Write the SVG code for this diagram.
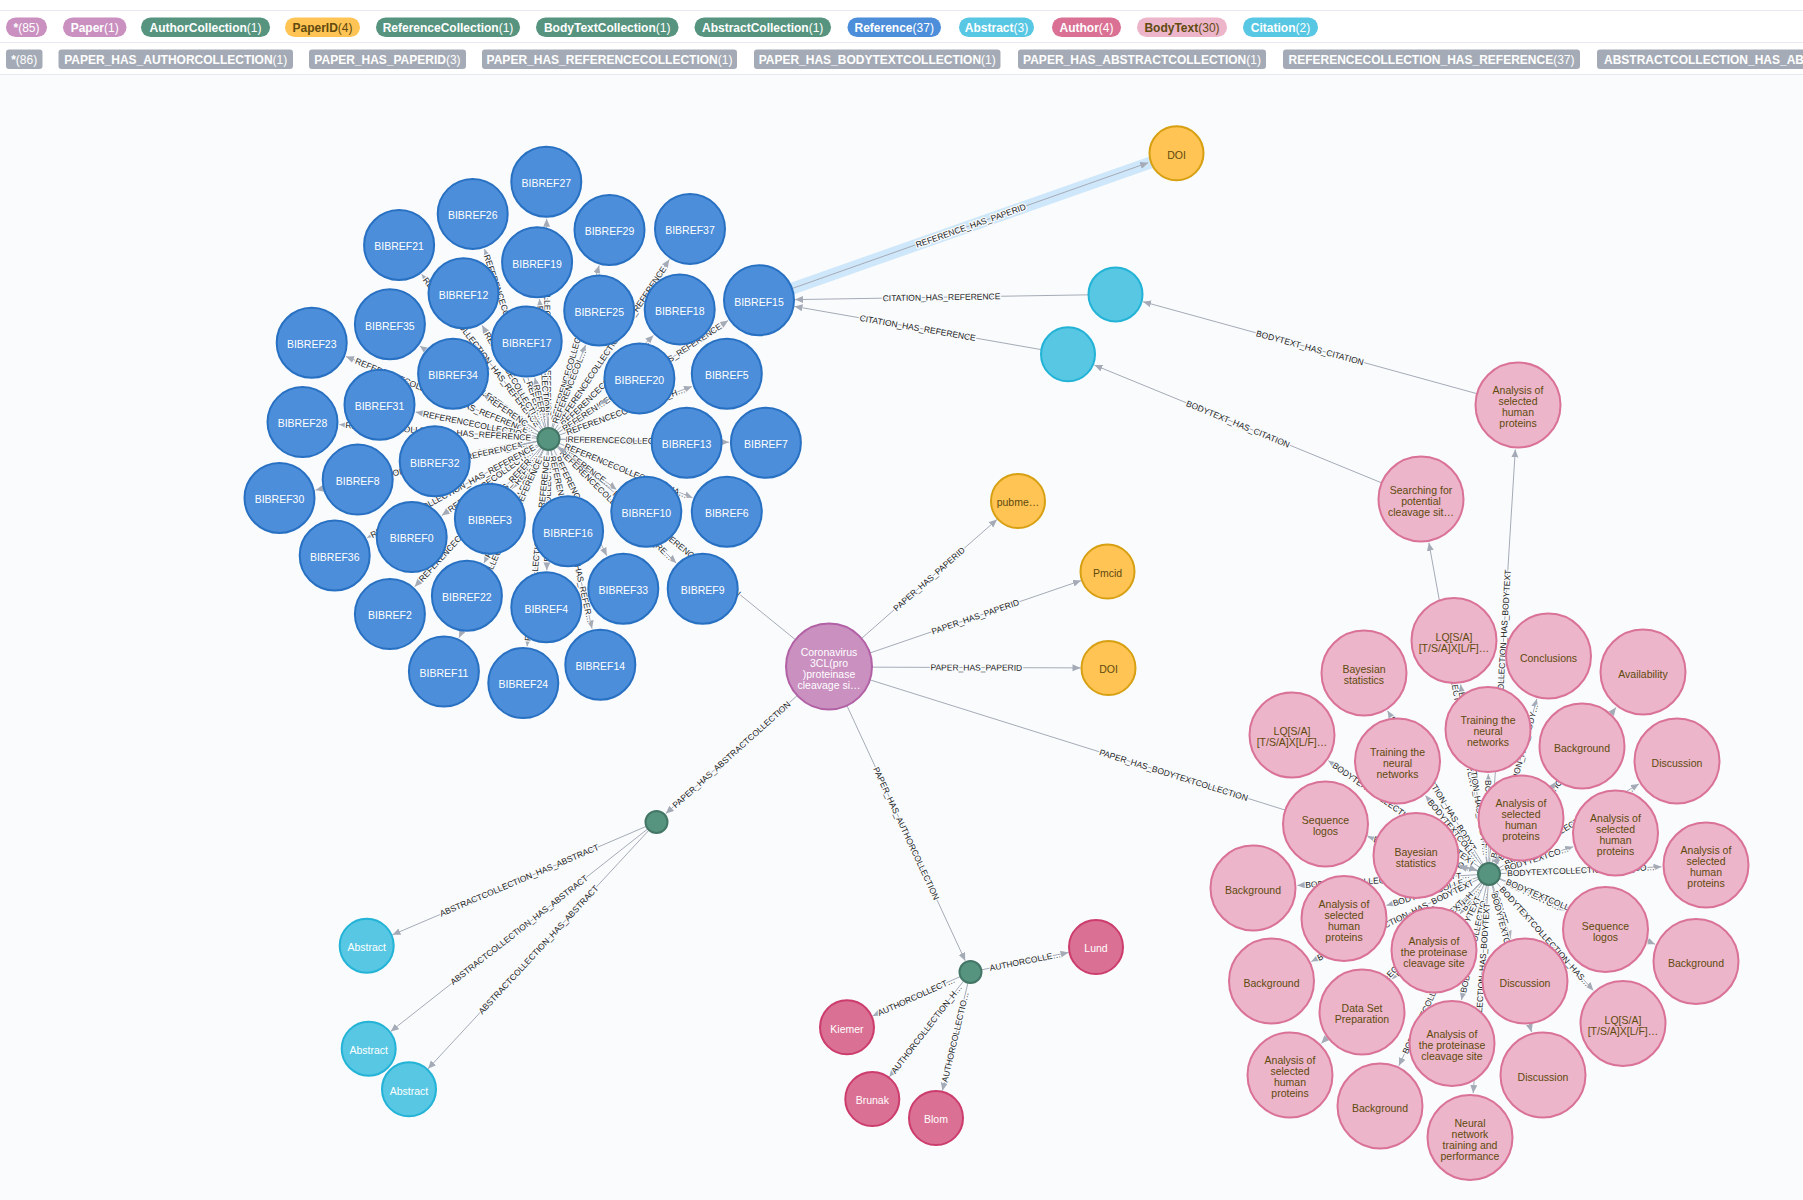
<svg xmlns="http://www.w3.org/2000/svg" width="1803" height="1200" viewBox="0 0 1803 1200">
<defs>
<marker id="a" markerWidth="9" markerHeight="8" refX="8" refY="3.5" orient="auto" markerUnits="userSpaceOnUse"><path d="M0,0 L8,3.5 L0,7 Z" fill="#a5abb6"/></marker>
<style>
text{font-family:"Liberation Sans",Arial,Helvetica,sans-serif}
.lg text{font-size:12px;font-weight:bold;text-anchor:middle}
.lg .c{font-weight:normal}
.e line{stroke:#a5abb6;stroke-width:1;fill:none;marker-end:url(#a)}
.e text{font-size:8.5px;fill:#222;text-anchor:middle;paint-order:stroke;stroke:#f9fbfd;stroke-width:2.5px;stroke-linejoin:round}
.n text{font-size:10.5px;text-anchor:middle}
.ref circle{fill:#4c8eda;stroke:#2870c2;stroke-width:2}
.bt circle{fill:#ecb5c9;stroke:#da7298;stroke-width:2}
.bt text,.pid text{fill:#604a0e}
.pid circle{fill:#ffc454;stroke:#d7a013;stroke-width:2}
.cy circle{fill:#57c7e3;stroke:#23b3d7;stroke-width:2}
.au circle{fill:#da7194;stroke:#cc3c6c;stroke-width:2}
.pp circle{fill:#c990c0;stroke:#b261a5;stroke-width:2}
.hub circle{fill:#569480;stroke:#447666;stroke-width:2}
.w text{fill:#fff}
</style>
</defs>
<rect width="1803" height="1200" fill="#f9fbfd"/>
<rect width="1803" height="74" fill="#ffffff"/>
<g stroke="#e6e9ef" stroke-width="1.2">
<line x1="0" y1="10.5" x2="1803" y2="10.5"/>
<line x1="0" y1="42.5" x2="1803" y2="42.5"/>
<line x1="0" y1="74.5" x2="1803" y2="74.5"/>
</g>
<g class="lg" id="legend">
<rect x="6" y="17.5" width="41" height="19.5" rx="9.75" fill="#c990c0"/><text x="26.5" y="31.5" fill="#fff">*<tspan class="c">(85)</tspan></text>
<rect x="63" y="17.5" width="63.5" height="19.5" rx="9.75" fill="#c990c0"/><text x="94.7" y="31.5" fill="#fff">Paper<tspan class="c">(1)</tspan></text>
<rect x="141" y="17.5" width="129" height="19.5" rx="9.75" fill="#569480"/><text x="205.5" y="31.5" fill="#fff">AuthorCollection<tspan class="c">(1)</tspan></text>
<rect x="285" y="17.5" width="75" height="19.5" rx="9.75" fill="#ffc454"/><text x="322.5" y="31.5" fill="#604a0e">PaperID<tspan class="c">(4)</tspan></text>
<rect x="376" y="17.5" width="144" height="19.5" rx="9.75" fill="#569480"/><text x="448" y="31.5" fill="#fff">ReferenceCollection<tspan class="c">(1)</tspan></text>
<rect x="536" y="17.5" width="142.5" height="19.5" rx="9.75" fill="#569480"/><text x="607.2" y="31.5" fill="#fff">BodyTextCollection<tspan class="c">(1)</tspan></text>
<rect x="694.5" y="17.5" width="136.5" height="19.5" rx="9.75" fill="#569480"/><text x="762.7" y="31.5" fill="#fff">AbstractCollection<tspan class="c">(1)</tspan></text>
<rect x="847.5" y="17.5" width="93.5" height="19.5" rx="9.75" fill="#4c8eda"/><text x="894.2" y="31.5" fill="#fff">Reference<tspan class="c">(37)</tspan></text>
<rect x="959" y="17.5" width="75" height="19.5" rx="9.75" fill="#57c7e3"/><text x="996.5" y="31.5" fill="#fff">Abstract<tspan class="c">(3)</tspan></text>
<rect x="1052" y="17.5" width="69" height="19.5" rx="9.75" fill="#da7194"/><text x="1086.5" y="31.5" fill="#fff">Author<tspan class="c">(4)</tspan></text>
<rect x="1137" y="17.5" width="90" height="19.5" rx="9.75" fill="#ecb5c9"/><text x="1182" y="31.5" fill="#604a0e">BodyText<tspan class="c">(30)</tspan></text>
<rect x="1243" y="17.5" width="75" height="19.5" rx="9.75" fill="#57c7e3"/><text x="1280.5" y="31.5" fill="#fff">Citation<tspan class="c">(2)</tspan></text>
<g fill="#a5abb6">
<rect x="6" y="49.5" width="36.5" height="19.5" rx="3"/>
<rect x="58.5" y="49.5" width="234.5" height="19.5" rx="3"/>
<rect x="309" y="49.5" width="157" height="19.5" rx="3"/>
<rect x="482" y="49.5" width="255" height="19.5" rx="3"/>
<rect x="754" y="49.5" width="246.5" height="19.5" rx="3"/>
<rect x="1018" y="49.5" width="248" height="19.5" rx="3"/>
<rect x="1283" y="49.5" width="297" height="19.5" rx="3"/>
<rect x="1597" y="49.5" width="260" height="19.5" rx="3"/>
</g>
<g fill="#fff">
<text x="24.2" y="63.5">*<tspan class="c">(86)</tspan></text>
<text x="175.7" y="63.5">PAPER_HAS_AUTHORCOLLECTION<tspan class="c">(1)</tspan></text>
<text x="387.5" y="63.5">PAPER_HAS_PAPERID<tspan class="c">(3)</tspan></text>
<text x="609.5" y="63.5">PAPER_HAS_REFERENCECOLLECTION<tspan class="c">(1)</tspan></text>
<text x="877.2" y="63.5">PAPER_HAS_BODYTEXTCOLLECTION<tspan class="c">(1)</tspan></text>
<text x="1142" y="63.5">PAPER_HAS_ABSTRACTCOLLECTION<tspan class="c">(1)</tspan></text>
<text x="1431.5" y="63.5">REFERENCECOLLECTION_HAS_REFERENCE<tspan class="c">(37)</tspan></text>
<text x="1604" y="63.5" style="text-anchor:start">ABSTRACTCOLLECTION_HAS_ABSTRACT<tspan class="c">(3)</tspan></text>
</g>
</g>

<g id="connectors" class="e">
<line x1="792" y1="288.6" x2="1151" y2="162.3" style="stroke:#cfe7fa;stroke-width:12;marker-end:none"/>
<!-- reference collection -->
<line x1="548.5" y1="439" x2="546.6" y2="218.7"/><text transform="translate(547.5,323.1) rotate(89.5)" y="3">REFERENCECOLLECTION_HAS_REFERENCE</text>
<line x1="548.5" y1="439" x2="484.5" y2="249"/><text transform="translate(514.7,338.5) rotate(71.4)" y="3">REFERENCECOLLECTION_HAS_REFERE…</text>
<line x1="548.5" y1="439" x2="421.7" y2="274.3"/><text transform="translate(481.6,352.1) rotate(52.4)" y="3">REFERENCECOLLECTION_HAS_REFERENCE</text>
<line x1="548.5" y1="439" x2="539.5" y2="299.1"/><text transform="translate(543.6,363.3) rotate(86.3)" y="3">REFERENCECOLLECTION…</text>
<line x1="548.5" y1="439" x2="599.1" y2="265.5"/><text transform="translate(575.4,346.7) rotate(-73.7)" y="3">REFERENCECOLLECTION_HAS_RE…</text>
<line x1="548.5" y1="439" x2="669.3" y2="259.6"/><text transform="translate(612.1,344.5) rotate(-56)" y="3">REFERENCECOLLECTION_HAS_REFERENCE</text>
<line x1="548.5" y1="439" x2="482.1" y2="325.3"/><text transform="translate(512.4,377.1) rotate(59.7)" y="3">REFERENCECOLLECTI…</text>
<line x1="548.5" y1="439" x2="585.6" y2="344.9"/><text transform="translate(569.2,386.6) rotate(-68.5)" y="3">REFERENCECOL…</text>
<line x1="548.5" y1="439" x2="653.4" y2="335.4"/><text transform="translate(605.1,383.1) rotate(-44.65)" y="3">REFERENCECOLLECTION_…</text>
<line x1="548.5" y1="439" x2="728.1" y2="320.6"/><text transform="translate(643.1,376.6) rotate(-33.4)" y="3">REFERENCECOLLECTION_HAS_REFERENCE</text>
<line x1="548.5" y1="439" x2="419.9" y2="346"/><text transform="translate(479.5,389.1) rotate(35.9)" y="3">REFERENCECOLLECTION_HA…</text>
<line x1="548.5" y1="439" x2="534.8" y2="377.7"/><text transform="translate(540.4,402.7) rotate(77.4)" y="3">REFER…</text>
<line x1="548.5" y1="439" x2="346" y2="356.6"/><text transform="translate(441.9,395.6) rotate(22.1)" y="3">REFERENCECOLLECTION_HAS_REFERENCE</text>
<line x1="548.5" y1="439" x2="483.6" y2="394.7"/><text transform="translate(511.3,413.6) rotate(34.35)" y="3">REFERENC…</text>
<line x1="548.5" y1="439" x2="608.6" y2="398.9"/><text transform="translate(583.4,415.7) rotate(-33.7)" y="3">REFEREN…</text>
<line x1="548.5" y1="439" x2="692" y2="386.5"/><text transform="translate(625.7,410.8) rotate(-20.1)" y="3">REFERENCECOLLECTION_H…</text>
<line x1="548.5" y1="439" x2="415.8" y2="412.1"/><text transform="translate(476.5,424.4) rotate(11.4)" y="3">REFERENCECOLLECTIO…</text>
<line x1="548.5" y1="439" x2="339.4" y2="424.6"/><text transform="translate(438.2,431.4) rotate(3.9)" y="3">REFERENCECOLLECTION_HAS_REFERENCE</text>
<line x1="548.5" y1="439" x2="649.6" y2="441.8"/><text transform="translate(604.8,440.5) rotate(1.6)" y="3">REFERENCECOL…</text>
<line x1="548.5" y1="439" x2="728.9" y2="442.2"/><text transform="translate(644.4,440.7) rotate(1)" y="3">REFERENCECOLLECTION_HAS_RE…</text>
<line x1="548.5" y1="439" x2="471" y2="454.1"/><text transform="translate(504.1,447.7) rotate(-11)" y="3">REFERENC…</text>
<line x1="548.5" y1="439" x2="393.9" y2="471.9"/><text transform="translate(465.6,456.6) rotate(-12)" y="3">REFERENCECOLLECTION_HA…</text>
<line x1="548.5" y1="439" x2="315.6" y2="490.1"/><text transform="translate(426.4,465.8) rotate(-12.4)" y="3">REFERENCECOLLECTION_HAS_REFERENCE</text>
<line x1="548.5" y1="439" x2="511.8" y2="488.9"/><text transform="translate(526.8,468.6) rotate(-53.7)" y="3">REFER…</text>
<line x1="548.5" y1="439" x2="616.6" y2="489.7"/><text transform="translate(587.2,467.8) rotate(36.7)" y="3">REFERENCE…</text>
<line x1="548.5" y1="439" x2="692.5" y2="497.8"/><text transform="translate(625.9,470.6) rotate(22.2)" y="3">REFERENCECOLLECTION_HA…</text>
<line x1="548.5" y1="439" x2="560.4" y2="495.1"/><text transform="translate(555.7,472.7) rotate(78)" y="3">REFE…</text>
<line x1="548.5" y1="439" x2="441.8" y2="515.5"/><text transform="translate(490.5,480.6) rotate(-35.6)" y="3">REFERENCECOLLECTI…</text>
<line x1="548.5" y1="439" x2="367.2" y2="537.8"/><text transform="translate(452.8,491.1) rotate(-28.6)" y="3">REFERENCECOLLECTION_HAS_REFERENCE</text>
<line x1="548.5" y1="439" x2="484" y2="562.9"/><text transform="translate(513.6,506) rotate(-62.5)" y="3">REFERENCECOLLECTION…</text>
<line x1="548.5" y1="439" x2="606.8" y2="555.7"/><text transform="translate(580.2,502.5) rotate(63.5)" y="3">REFERENCECOLLECTI…</text>
<line x1="548.5" y1="439" x2="676.2" y2="563"/><text transform="translate(616.5,505) rotate(44.2)" y="3">REFERENCECOLLECTION_HAS_RE…</text>
<line x1="548.5" y1="439" x2="546.8" y2="570.2"/><text transform="translate(547.6,510.4) rotate(-89.25)" y="3">REFERENCECOLLECTI…</text>
<line x1="548.5" y1="439" x2="414.7" y2="586.7"/><text transform="translate(477.8,517.1) rotate(-47.8)" y="3">REFERENCECOLLECTION_HAS_REFER…</text>
<line x1="548.5" y1="439" x2="592" y2="628.6"/><text transform="translate(571.6,539.4) rotate(77.1)" y="3">REFERENCECOLLECTION_HAS_REFER…</text>
<line x1="548.5" y1="439" x2="459.1" y2="637.8"/><text transform="translate(501.4,543.7) rotate(-65.8)" y="3">REFERENCECOLLECTION_HAS_REFERENCE</text>
<line x1="548.5" y1="439" x2="527.1" y2="646.3"/><text transform="translate(537.2,548.4) rotate(-84.1)" y="3">REFERENCECOLLECTION_HAS_REFERENCE</text>
<!-- body text collection -->
<line x1="1489" y1="874" x2="1515.3" y2="449.4"/><text transform="translate(1502.5,656) rotate(-86.5)" y="3">BODYTEXTCOLLECTION_HAS_BODYTEXT</text>
<line x1="1489" y1="874" x2="1428.9" y2="542.8"/><text transform="translate(1457.9,702.7) rotate(79.7)" y="3">BODYTEXTCOLLECTION_HAS_BODYTEXT</text>
<line x1="1489" y1="874" x2="1460.6" y2="684.5"/><text transform="translate(1474,773.6) rotate(81.5)" y="3">BODYTEXTCOLLECTION_HAS_BODYT…</text>
<line x1="1489" y1="874" x2="1387.5" y2="710.8"/><text transform="translate(1435.2,787.5) rotate(58.1)" y="3">BODYTEXTCOLLECTION_HAS_BODYT…</text>
<line x1="1489" y1="874" x2="1536.8" y2="698.9"/><text transform="translate(1514.4,780.9) rotate(-74.7)" y="3">BODYTEXTCOLLECTION_HAS_BODY…</text>
<line x1="1489" y1="874" x2="1616" y2="707.4"/><text transform="translate(1556,786.1) rotate(-52.7)" y="3">BODYTEXTCOLLECTION_HAS_BODYTEXT</text>
<line x1="1489" y1="874" x2="1328.4" y2="760.7"/><text transform="translate(1404,814) rotate(35.2)" y="3">BODYTEXTCOLLECTION_HAS_BODYTEXT</text>
<line x1="1489" y1="874" x2="1425.5" y2="795.6"/><text transform="translate(1453.6,830.3) rotate(51)" y="3">BODYTEXTCOLL…</text>
<line x1="1489" y1="874" x2="1488.3" y2="774"/><text transform="translate(1488.6,818.3) rotate(89.6)" y="3">BODYTEXTCOLL…</text>
<line x1="1489" y1="874" x2="1555.8" y2="782"/><text transform="translate(1525.8,823.3) rotate(-54)" y="3">BODYTEXTCOLLEC…</text>
<line x1="1489" y1="874" x2="1638.9" y2="783.9"/><text transform="translate(1568.9,826) rotate(-31)" y="3">BODYTEXTCOLLECTION_HAS_BO…</text>
<line x1="1489" y1="874" x2="1368.1" y2="837"/><text transform="translate(1423,853.8) rotate(17)" y="3">BODYTEXTCOLLECTIO…</text>
<line x1="1489" y1="874" x2="1459.1" y2="866.4"/>
<line x1="1489" y1="874" x2="1499.2" y2="855.8"/>
<line x1="1489" y1="874" x2="1573.2" y2="846.7"/><text transform="translate(1536.6,858.6) rotate(-18)" y="3">BODYTEXTCO…</text>
<line x1="1489" y1="874" x2="1661.5" y2="866.8"/><text transform="translate(1581,870.2) rotate(-2.4)" y="3">BODYTEXTCOLLECTION_HAS_BO…</text>
<line x1="1489" y1="874" x2="1297.4" y2="885.4"/><text transform="translate(1387.5,880) rotate(-3.4)" y="3">BODYTEXTCOLLECTION_HAS_BODYT…</text>
<line x1="1489" y1="874" x2="1386.5" y2="905.4"/><text transform="translate(1432.3,891.4) rotate(-17.1)" y="3">BODYTEXTCOLLE…</text>
<line x1="1489" y1="874" x2="1460.1" y2="913.9"/><text transform="translate(1471,898.8) rotate(-54.1)" y="3">BOD…</text>
<line x1="1489" y1="874" x2="1565.3" y2="910.4"/><text transform="translate(1532.6,894.8) rotate(25.5)" y="3">BODYTEXTC…</text>
<line x1="1489" y1="874" x2="1655" y2="944.2"/><text transform="translate(1577.3,911.3) rotate(22.9)" y="3">BODYTEXTCOLLECTION_HAS_BOD…</text>
<line x1="1489" y1="874" x2="1311.4" y2="961.4"/><text transform="translate(1395.3,920.1) rotate(-26.2)" y="3">BODYTEXTCOLLECTION_HAS_BODYTEXT</text>
<line x1="1489" y1="874" x2="1510.8" y2="938.8"/><text transform="translate(1501.7,911.9) rotate(71.4)" y="3">BODYTE…</text>
<line x1="1489" y1="874" x2="1392.1" y2="979.2"/><text transform="translate(1436.7,930.9) rotate(-47.4)" y="3">BODYTEXTCOLLECTION_H…</text>
<line x1="1489" y1="874" x2="1461.5" y2="1000"/><text transform="translate(1474,942.6) rotate(-77.7)" y="3">BODYTEXTCOLLECTIO…</text>
<line x1="1489" y1="874" x2="1593.3" y2="990.4"/><text transform="translate(1545,936.5) rotate(48.1)" y="3">BODYTEXTCOLLECTION_HAS…</text>
<line x1="1489" y1="874" x2="1321.3" y2="1043.4"/><text transform="translate(1401.1,962.8) rotate(-45.3)" y="3">BODYTEXTCOLLECTION_HAS_BODYTEXT</text>
<line x1="1489" y1="874" x2="1531.5" y2="1032"/><text transform="translate(1511.7,958.6) rotate(75)" y="3">BODYTEXTCOLLECTION_HAS_…</text>
<line x1="1489" y1="874" x2="1398.9" y2="1065.7"/><text transform="translate(1441.5,975.1) rotate(-64.8)" y="3">BODYTEXTCOLLECTION_HAS_BODYTEXT</text>
<line x1="1489" y1="874" x2="1473.2" y2="1093.1"/><text transform="translate(1480.7,989.3) rotate(-85.9)" y="3">BODYTEXTCOLLECTION_HAS_BODYTEXT</text>
<!-- paper -->
<line x1="829" y1="667" x2="558.2" y2="446.9"/><text transform="translate(676.9,543.4) rotate(39.1)" y="3">PAPER_HAS_REFERENCECOLLECTION</text>
<line x1="829" y1="667" x2="997" y2="519.5"/><text transform="translate(929.1,579.1) rotate(-41.3)" y="3">PAPER_HAS_PAPERID</text>
<line x1="829" y1="667" x2="1081" y2="580.6"/><text transform="translate(975.3,616.8) rotate(-18.9)" y="3">PAPER_HAS_PAPERID</text>
<line x1="829" y1="667" x2="1080.5" y2="667.9"/><text transform="translate(976.3,667.5) rotate(0.2)" y="3">PAPER_HAS_PAPERID</text>
<line x1="829" y1="667" x2="1477.1" y2="870.3"/><text transform="translate(1173.6,775.1) rotate(17.4)" y="3">PAPER_HAS_BODYTEXTCOLLECTION</text>
<line x1="829" y1="667" x2="665.8" y2="813.6"/><text transform="translate(731.4,754.7) rotate(-41.9)" y="3">PAPER_HAS_ABSTRACTCOLLECTION</text>
<line x1="829" y1="667" x2="965.2" y2="960.7"/><text transform="translate(906.2,833.3) rotate(65.1)" y="3">PAPER_HAS_AUTHORCOLLECTION</text>
<!-- abstracts -->
<line x1="656.5" y1="822" x2="392.5" y2="934.8"/><text transform="translate(519.2,880.3) rotate(-23)" y="3">ABSTRACTCOLLECTION_HAS_ABSTRACT</text>
<line x1="656.5" y1="822" x2="390.7" y2="1031.4"/><text transform="translate(519.1,929.9) rotate(-38.1)" y="3">ABSTRACTCOLLECTION_HAS_ABSTRACT</text>
<line x1="656.5" y1="822" x2="428" y2="1068.8"/><text transform="translate(538.4,949.6) rotate(-47.2)" y="3">ABSTRACTCOLLECTION_HAS_ABSTRACT</text>
<!-- authors -->
<line x1="970.5" y1="972" x2="1068.5" y2="952.5"/><text transform="translate(1025.2,961.1) rotate(-11.3)" y="3">AUTHORCOLLE…</text>
<line x1="970.5" y1="972" x2="872.6" y2="1015.9"/><text transform="translate(916.3,996.3) rotate(-24.1)" y="3">AUTHORCOLLECT…</text>
<line x1="970.5" y1="972" x2="889.4" y2="1076.8"/><text transform="translate(926.5,1029) rotate(-52.3)" y="3">AUTHORCOLLECTION_H…</text>
<line x1="970.5" y1="972" x2="942.4" y2="1090.7"/><text transform="translate(955.1,1037) rotate(-76.7)" y="3">AUTHORCOLLECTIO…</text>
<!-- citations -->
<line x1="1518" y1="405" x2="1143" y2="301.7"/><text transform="translate(1310,347.8) rotate(15.4)" y="3">BODYTEXT_HAS_CITATION</text>
<line x1="1421" y1="499" x2="1094.4" y2="365.1"/><text transform="translate(1238,424) rotate(22.3)" y="3">BODYTEXT_HAS_CITATION</text>
<line x1="1115.5" y1="294.4" x2="795" y2="299.6"/><text transform="translate(941.5,297.2) rotate(-0.93)" y="3">CITATION_HAS_REFERENCE</text>
<line x1="1068" y1="354.3" x2="794.5" y2="306.4"/><text transform="translate(917.7,328) rotate(9.9)" y="3">CITATION_HAS_REFERENCE</text>
<line x1="759" y1="300.2" x2="1148.2" y2="162.7"/><text transform="translate(970.8,225.7) rotate(-19.4)" y="3">REFERENCE_HAS_PAPERID</text>
</g>

<g id="nodes" class="n">
<g id="ref27" class="ref w"><circle cx="546.3" cy="181.7" r="35"/><text x="546.3" y="187">BIBREF27</text></g>
<g id="ref26" class="ref w"><circle cx="472.7" cy="213.9" r="35"/><text x="472.7" y="219.2">BIBREF26</text></g>
<g id="ref21" class="ref w"><circle cx="399.1" cy="245" r="35"/><text x="399.1" y="250.3">BIBREF21</text></g>
<g id="ref19" class="ref w"><circle cx="537.1" cy="262.2" r="35"/><text x="537.1" y="267.5">BIBREF19</text></g>
<g id="ref29" class="ref w"><circle cx="609.5" cy="230" r="35"/><text x="609.5" y="235.3">BIBREF29</text></g>
<g id="ref37" class="ref w"><circle cx="690" cy="228.9" r="35"/><text x="690" y="234.2">BIBREF37</text></g>
<g id="ref12" class="ref w"><circle cx="463.5" cy="293.3" r="35"/><text x="463.5" y="298.6">BIBREF12</text></g>
<g id="ref25" class="ref w"><circle cx="599.2" cy="310.5" r="35"/><text x="599.2" y="315.8">BIBREF25</text></g>
<g id="ref18" class="ref w"><circle cx="679.7" cy="309.4" r="35"/><text x="679.7" y="314.7">BIBREF18</text></g>
<g id="ref15" class="ref w"><circle cx="759" cy="300.2" r="35"/><text x="759" y="305.5">BIBREF15</text></g>
<g id="ref35" class="ref w"><circle cx="389.9" cy="324.3" r="35"/><text x="389.9" y="329.6">BIBREF35</text></g>
<g id="ref17" class="ref w"><circle cx="526.7" cy="341.6" r="35"/><text x="526.7" y="346.9">BIBREF17</text></g>
<g id="ref23" class="ref w"><circle cx="311.7" cy="342.7" r="35"/><text x="311.7" y="348">BIBREF23</text></g>
<g id="ref34" class="ref w"><circle cx="453.1" cy="373.8" r="35"/><text x="453.1" y="379.1">BIBREF34</text></g>
<g id="ref20" class="ref w"><circle cx="639.4" cy="378.4" r="35"/><text x="639.4" y="383.7">BIBREF20</text></g>
<g id="ref5" class="ref w"><circle cx="726.8" cy="373.8" r="35"/><text x="726.8" y="379.1">BIBREF5</text></g>
<g id="ref31" class="ref w"><circle cx="379.5" cy="404.8" r="35"/><text x="379.5" y="410.1">BIBREF31</text></g>
<g id="ref28" class="ref w"><circle cx="302.5" cy="422.1" r="35"/><text x="302.5" y="427.4">BIBREF28</text></g>
<g id="ref13" class="ref w"><circle cx="686.6" cy="442.8" r="35"/><text x="686.6" y="448.1">BIBREF13</text></g>
<g id="ref7" class="ref w"><circle cx="765.9" cy="442.8" r="35"/><text x="765.9" y="448.1">BIBREF7</text></g>
<g id="ref32" class="ref w"><circle cx="434.7" cy="461.2" r="35"/><text x="434.7" y="466.5">BIBREF32</text></g>
<g id="ref8" class="ref w"><circle cx="357.7" cy="479.6" r="35"/><text x="357.7" y="484.9">BIBREF8</text></g>
<g id="ref30" class="ref w"><circle cx="279.5" cy="498" r="35"/><text x="279.5" y="503.3">BIBREF30</text></g>
<g id="ref3" class="ref w"><circle cx="489.9" cy="518.7" r="35"/><text x="489.9" y="524">BIBREF3</text></g>
<g id="ref10" class="ref w"><circle cx="646.3" cy="511.8" r="35"/><text x="646.3" y="517.1">BIBREF10</text></g>
<g id="ref6" class="ref w"><circle cx="726.8" cy="511.8" r="35"/><text x="726.8" y="517.1">BIBREF6</text></g>
<g id="ref16" class="ref w"><circle cx="568.1" cy="531.3" r="35"/><text x="568.1" y="536.6">BIBREF16</text></g>
<g id="ref0" class="ref w"><circle cx="411.7" cy="537.1" r="35"/><text x="411.7" y="542.4">BIBREF0</text></g>
<g id="ref36" class="ref w"><circle cx="334.7" cy="555.5" r="35"/><text x="334.7" y="560.8">BIBREF36</text></g>
<g id="ref22" class="ref w"><circle cx="466.9" cy="595.7" r="35"/><text x="466.9" y="601">BIBREF22</text></g>
<g id="ref33" class="ref w"><circle cx="623.3" cy="588.8" r="35"/><text x="623.3" y="594.1">BIBREF33</text></g>
<g id="ref9" class="ref w"><circle cx="702.7" cy="588.8" r="35"/><text x="702.7" y="594.1">BIBREF9</text></g>
<g id="ref4" class="ref w"><circle cx="546.3" cy="607.2" r="35"/><text x="546.3" y="612.5">BIBREF4</text></g>
<g id="ref2" class="ref w"><circle cx="389.9" cy="614.1" r="35"/><text x="389.9" y="619.4">BIBREF2</text></g>
<g id="ref14" class="ref w"><circle cx="600.3" cy="664.7" r="35"/><text x="600.3" y="670">BIBREF14</text></g>
<g id="ref11" class="ref w"><circle cx="443.9" cy="671.6" r="35"/><text x="443.9" y="676.9">BIBREF11</text></g>
<g id="ref24" class="ref w"><circle cx="523.3" cy="683.1" r="35"/><text x="523.3" y="688.4">BIBREF24</text></g>

<g id="refcollection" class="hub"><circle cx="548.5" cy="439" r="11"/></g>
<g id="abscollection" class="hub"><circle cx="656.5" cy="822" r="11"/></g>
<g id="authcollection" class="hub"><circle cx="970.5" cy="972" r="11"/></g>
<g id="bodycollection" class="hub"><circle cx="1489" cy="874" r="11"/></g>

<g id="paper" class="pp w"><circle cx="829" cy="666.5" r="43"/><text><tspan x="829" y="655.5">Coronavirus</tspan><tspan x="829" y="666.5">3CL(pro</tspan><tspan x="829" y="677.5">)proteinase</tspan><tspan x="829" y="688.5">cleavage si…</tspan></text></g>

<g id="doi-ref" class="pid"><circle cx="1176.5" cy="153.3" r="27"/><text x="1176.5" y="158.6">DOI</text></g>
<g id="pubmed" class="pid"><circle cx="1018" cy="501" r="27"/><text x="1018" y="506.3">pubme…</text></g>
<g id="pmcid" class="pid"><circle cx="1107.5" cy="571.5" r="27"/><text x="1107.5" y="576.8">Pmcid</text></g>
<g id="doi" class="pid"><circle cx="1108.5" cy="668" r="27"/><text x="1108.5" y="673.3">DOI</text></g>

<g id="citation1" class="cy"><circle cx="1115.5" cy="294.4" r="27"/></g>
<g id="citation2" class="cy"><circle cx="1068" cy="354.3" r="27"/></g>

<g id="abstract1" class="cy w"><circle cx="366.7" cy="945.7" r="27"/><text x="366.7" y="951">Abstract</text></g>
<g id="abstract2" class="cy w"><circle cx="368.7" cy="1048.7" r="27"/><text x="368.7" y="1054">Abstract</text></g>
<g id="abstract3" class="cy w"><circle cx="409" cy="1089.3" r="27"/><text x="409" y="1094.6">Abstract</text></g>

<g id="lund" class="au w"><circle cx="1096" cy="947" r="27"/><text x="1096" y="952.3">Lund</text></g>
<g id="kiemer" class="au w"><circle cx="847" cy="1027.3" r="27"/><text x="847" y="1032.6">Kiemer</text></g>
<g id="brunak" class="au w"><circle cx="872.3" cy="1099" r="27"/><text x="872.3" y="1104.3">Brunak</text></g>
<g id="blom" class="au w"><circle cx="936" cy="1118" r="27"/><text x="936" y="1123.3">Blom</text></g>

<g id="bt1" class="bt"><circle cx="1518" cy="405" r="42.5"/><text><tspan x="1518" y="394">Analysis of</tspan><tspan x="1518" y="405">selected</tspan><tspan x="1518" y="416">human</tspan><tspan x="1518" y="427">proteins</tspan></text></g>
<g id="bt2" class="bt"><circle cx="1421" cy="499" r="42.5"/><text><tspan x="1421" y="493.5">Searching for</tspan><tspan x="1421" y="504.5">potential</tspan><tspan x="1421" y="515.5">cleavage sit…</tspan></text></g>
<g id="bt3" class="bt"><circle cx="1454" cy="640.5" r="42.5"/><text><tspan x="1454" y="640.5">LQ[S/A]</tspan><tspan x="1454" y="651.5">[T/S/A]X[L/F]…</tspan></text></g>
<g id="bt4" class="bt"><circle cx="1364" cy="673" r="42.5"/><text><tspan x="1364" y="673">Bayesian</tspan><tspan x="1364" y="684">statistics</tspan></text></g>
<g id="bt5" class="bt"><circle cx="1548.5" cy="656" r="42.5"/><text x="1548.5" y="661.5">Conclusions</text></g>
<g id="bt6" class="bt"><circle cx="1643" cy="672" r="42.5"/><text x="1643" y="677.5">Availability</text></g>
<g id="bt7" class="bt"><circle cx="1292" cy="735" r="42.5"/><text><tspan x="1292" y="735">LQ[S/A]</tspan><tspan x="1292" y="746">[T/S/A]X[L/F]…</tspan></text></g>
<g id="bt8" class="bt"><circle cx="1397.5" cy="761" r="42.5"/><text><tspan x="1397.5" y="755.5">Training the</tspan><tspan x="1397.5" y="766.5">neural</tspan><tspan x="1397.5" y="777.5">networks</tspan></text></g>
<g id="bt9" class="bt"><circle cx="1488" cy="729.5" r="42.5"/><text><tspan x="1488" y="724">Training the</tspan><tspan x="1488" y="735">neural</tspan><tspan x="1488" y="746">networks</tspan></text></g>
<g id="bt10" class="bt"><circle cx="1582" cy="746" r="42.5"/><text x="1582" y="751.5">Background</text></g>
<g id="bt11" class="bt"><circle cx="1677" cy="761" r="42.5"/><text x="1677" y="766.5">Discussion</text></g>
<g id="bt12" class="bt"><circle cx="1325.5" cy="824" r="42.5"/><text><tspan x="1325.5" y="824">Sequence</tspan><tspan x="1325.5" y="835">logos</tspan></text></g>
<g id="bt13" class="bt"><circle cx="1416" cy="855.5" r="42.5"/><text><tspan x="1416" y="855.5">Bayesian</tspan><tspan x="1416" y="866.5">statistics</tspan></text></g>
<g id="bt14" class="bt"><circle cx="1521" cy="818" r="42.5"/><text><tspan x="1521" y="807">Analysis of</tspan><tspan x="1521" y="818">selected</tspan><tspan x="1521" y="829">human</tspan><tspan x="1521" y="840">proteins</tspan></text></g>
<g id="bt15" class="bt"><circle cx="1615.5" cy="833" r="42.5"/><text><tspan x="1615.5" y="822">Analysis of</tspan><tspan x="1615.5" y="833">selected</tspan><tspan x="1615.5" y="844">human</tspan><tspan x="1615.5" y="855">proteins</tspan></text></g>
<g id="bt16" class="bt"><circle cx="1706" cy="865" r="42.5"/><text><tspan x="1706" y="854">Analysis of</tspan><tspan x="1706" y="865">selected</tspan><tspan x="1706" y="876">human</tspan><tspan x="1706" y="887">proteins</tspan></text></g>
<g id="bt17" class="bt"><circle cx="1253" cy="888" r="42.5"/><text x="1253" y="893.5">Background</text></g>
<g id="bt18" class="bt"><circle cx="1344" cy="918.5" r="42.5"/><text><tspan x="1344" y="907.5">Analysis of</tspan><tspan x="1344" y="918.5">selected</tspan><tspan x="1344" y="929.5">human</tspan><tspan x="1344" y="940.5">proteins</tspan></text></g>
<g id="bt19" class="bt"><circle cx="1434" cy="950" r="42.5"/><text><tspan x="1434" y="944.5">Analysis of</tspan><tspan x="1434" y="955.5">the proteinase</tspan><tspan x="1434" y="966.5">cleavage site</tspan></text></g>
<g id="bt20" class="bt"><circle cx="1605.5" cy="929.5" r="42.5"/><text><tspan x="1605.5" y="929.5">Sequence</tspan><tspan x="1605.5" y="940.5">logos</tspan></text></g>
<g id="bt21" class="bt"><circle cx="1696" cy="961.5" r="42.5"/><text x="1696" y="967">Background</text></g>
<g id="bt22" class="bt"><circle cx="1271.5" cy="981" r="42.5"/><text x="1271.5" y="986.5">Background</text></g>
<g id="bt23" class="bt"><circle cx="1525" cy="981" r="42.5"/><text x="1525" y="986.5">Discussion</text></g>
<g id="bt24" class="bt"><circle cx="1362" cy="1012" r="42.5"/><text><tspan x="1362" y="1012">Data Set</tspan><tspan x="1362" y="1023">Preparation</tspan></text></g>
<g id="bt25" class="bt"><circle cx="1452" cy="1043.5" r="42.5"/><text><tspan x="1452" y="1038">Analysis of</tspan><tspan x="1452" y="1049">the proteinase</tspan><tspan x="1452" y="1060">cleavage site</tspan></text></g>
<g id="bt26" class="bt"><circle cx="1623" cy="1023.5" r="42.5"/><text><tspan x="1623" y="1023.5">LQ[S/A]</tspan><tspan x="1623" y="1034.5">[T/S/A]X[L/F]…</tspan></text></g>
<g id="bt27" class="bt"><circle cx="1290" cy="1075" r="42.5"/><text><tspan x="1290" y="1064">Analysis of</tspan><tspan x="1290" y="1075">selected</tspan><tspan x="1290" y="1086">human</tspan><tspan x="1290" y="1097">proteins</tspan></text></g>
<g id="bt28" class="bt"><circle cx="1543" cy="1075" r="42.5"/><text x="1543" y="1080.5">Discussion</text></g>
<g id="bt29" class="bt"><circle cx="1380" cy="1106" r="42.5"/><text x="1380" y="1111.5">Background</text></g>
<g id="bt30" class="bt"><circle cx="1470" cy="1137.5" r="42.5"/><text><tspan x="1470" y="1126.5">Neural</tspan><tspan x="1470" y="1137.5">network</tspan><tspan x="1470" y="1148.5">training and</tspan><tspan x="1470" y="1159.5">performance</tspan></text></g>
</g>
</svg>
